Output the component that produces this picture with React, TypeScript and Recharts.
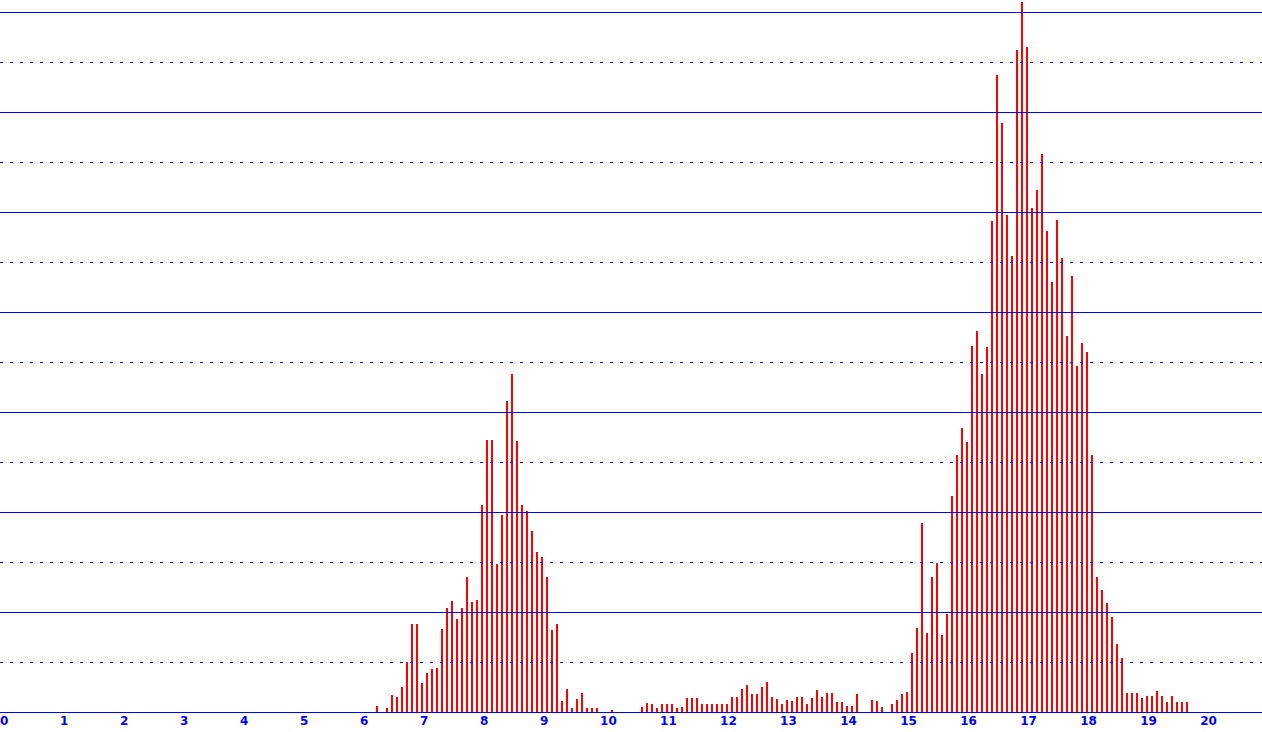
import { BarChart, Bar, XAxis, YAxis, ReferenceLine } from 'recharts'

// histogram bins are 1/12 wide; the first listed bin starts at 75/12 = 6.25
const firstBin = 75
const binsPerUnit = 12

const heights = [
  0.06, 0, 0.04, 0.17, 0.15, 0.25, 0.5, 0.88, 0.88, 0.29, 0.39, 0.43, 0.44, 0.83, 1.04, 1.11, 0.93, 1.04,
  1.35, 1.1, 1.12, 2.07, 2.72, 2.72, 1.48, 1.97, 3.11, 3.38, 2.71, 2.07, 2.01, 1.81, 1.6, 1.55, 1.35, 0.82,
  0.88, 0.11, 0.23, 0.04, 0.13, 0.19, 0.04, 0.04, 0.04, 0, 0, 0.02, 0, 0, 0, 0, 0, 0.05, 0.09, 0.08,
  0.04, 0.08, 0.08, 0.08, 0.04, 0.05, 0.14, 0.14, 0.14, 0.08, 0.08, 0.08, 0.08, 0.08, 0.08, 0.15, 0.15, 0.23,
  0.27, 0.18, 0.18, 0.25, 0.3, 0.15, 0.13, 0.08, 0.12, 0.11, 0.15, 0.15, 0.08, 0.14, 0.22, 0.15, 0.19, 0.19,
  0.1, 0.1, 0.06, 0.06, 0.18, 0, 0, 0.12, 0.11, 0.05, 0, 0.08, 0.12, 0.18, 0.2, 0.59, 0.84, 1.89,
  0.79, 1.35, 1.49, 0.77, 0.98, 2.16, 2.57, 2.84, 2.7, 3.66, 3.81, 3.38, 3.65, 4.91, 6.37, 5.89, 4.97, 4.56,
  6.62, 7.1, 6.65, 5.04, 5.22, 5.58, 4.81, 4.3, 4.92, 4.54, 3.76, 4.36, 3.46, 3.69, 3.6, 2.57, 1.35, 1.22,
  1.09, 0.95, 0.68, 0.54, 0.19, 0.19, 0.19, 0.14, 0.16, 0.16, 0.21, 0.16, 0.1, 0.16, 0.1, 0.1, 0.1
]

const xTicks = [0, 1, 2, 3, 4, 5, 6, 7, 8, 9, 10, 11, 12, 13, 14, 15, 16, 17, 18, 19, 20]
const solidLines = [1, 2, 3, 4, 5, 6, 7]
const dottedLines = [0.5, 1.5, 2.5, 3.5, 4.5, 5.5, 6.5]

const data = heights.map((h, i) => ({ x: (firstBin + i) / binsPerUnit, h }))

const BLUE = '#0000ff'

// thin stick drawn from the left edge of its bin
const Stick = (props: any) => {
  const { x, y, height } = props
  if (!height) return null
  return <rect x={Math.round(x + 1.25)} y={y} width={2} height={height} fill="#ff0000" />
}

const Tick = ({ x, y, payload }: any) => (
  <text x={x} y={y + 13} textAnchor="start" fill={BLUE} fontFamily="DejaVu Sans" fontWeight="bold" fontSize={12}>
    {payload.value}
  </text>
)

export default function App() {
  return (
    <div style={{ position: 'absolute', left: 0, top: 0, width: 1262, height: 732, background: '#fff' }}>
      <BarChart width={1262} height={732} data={data} margin={{ top: 0, right: 0, bottom: 0, left: 0 }}>
        <XAxis
          type="number"
          dataKey="x"
          domain={[0, 21.03]}
          ticks={xTicks}
          interval={0}
          height={20}
          tickLine={false}
          tickSize={0}
          tickMargin={0}
          axisLine={{ stroke: BLUE, shapeRendering: 'crispEdges' }}
          tick={<Tick />}
        />
        <YAxis hide type="number" domain={[0, 7.12]} allowDataOverflow />
        {dottedLines.map((v) => (
          <ReferenceLine key={'d' + v} y={v} stroke={BLUE} strokeDasharray="3 7" shapeRendering="crispEdges" />
        ))}
        {solidLines.map((v) => (
          <ReferenceLine key={'s' + v} y={v} stroke={BLUE} shapeRendering="crispEdges" />
        ))}
        <Bar dataKey="h" barSize={2} shape={<Stick />} isAnimationActive={false} />
      </BarChart>
    </div>
  )
}
